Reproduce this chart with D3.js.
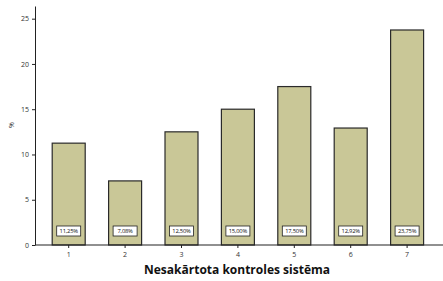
<!DOCTYPE html>
<html><head><meta charset="utf-8">
<script src="https://cdn.jsdelivr.net/npm/d3@7"></script>
<style>body{margin:0;background:#fff}svg{display:block}</style>
</head><body>
<script>
const categories = ["1","2","3","4","5","6","7"];
const values = [11.25, 7.08, 12.50, 15.00, 17.50, 12.92, 23.75];
const valueLabels = ["11,25%","7,08%","12,50%","15,00%","17,50%","12,92%","23,75%"];
const yTicks = [0,5,10,15,20,25];
const yTitle = "%";
const xTitle = "Nesakārtota kontroles sistēma";

const W=443,H=281;
const svg=d3.select("body").append("svg").attr("width",W).attr("height",H);
const font="'Open Sans', 'Noto Sans', sans-serif";
const y=d3.scaleLinear().domain([0,26.4]).range([245,6]);
const x=d3.scaleBand().domain(categories).range([40.5,435.3]).paddingInner(0.415).paddingOuter(0.2075);

// bars
svg.selectAll("rect.bar").data(values).join("rect").attr("class","bar")
  .attr("x",(d,i)=>x(categories[i])).attr("width",x.bandwidth())
  .attr("y",d=>y(d)).attr("height",d=>y(0)-y(d))
  .attr("fill","#c9c797").attr("stroke","#2a2a2a").attr("stroke-width",1.2);

// labels
const lg=svg.selectAll("g.lab").data(values).join("g").attr("class","lab")
  .attr("transform",(d,i)=>`translate(${x(categories[i])+x.bandwidth()/2},${231})`);
lg.append("rect").attr("x",-12).attr("y",-5).attr("width",24).attr("height",10)
  .attr("fill","#fff").attr("stroke","#222").attr("stroke-width",0.8);
lg.append("text").text((d,i)=>valueLabels[i]).attr("text-anchor","middle").attr("dy","0.35em")
  .attr("font-family",font).attr("font-size",5.8).attr("letter-spacing",-0.2).attr("fill","#111");

// y axis
const ya=svg.append("g").attr("transform","translate(35,0)")
  .call(d3.axisLeft(y).tickValues(yTicks).tickSize(3).tickSizeOuter(0));
ya.select(".domain").attr("stroke","#222");
ya.selectAll("text").attr("font-family",font).attr("font-size",7).attr("fill","#333");
ya.selectAll(".tick line").attr("stroke","#222");

// x axis
const xa=svg.append("g").attr("transform","translate(0,245)")
  .call(d3.axisBottom(x).tickSize(3).tickSizeOuter(0));
xa.select(".domain").remove();
xa.selectAll("text").attr("font-family",font).attr("font-size",7).attr("fill","#333").attr("dy","0.9em");
xa.selectAll(".tick line").attr("stroke","#222");
svg.append("line").attr("x1",35).attr("x2",443).attr("y1",245).attr("y2",245).attr("stroke","#222").attr("stroke-width",1.2);

svg.append("text").text(yTitle).attr("transform","translate(14,125) rotate(-90)")
  .attr("text-anchor","middle").attr("font-family",font).attr("font-size",7).attr("fill","#333");
svg.append("text").text(xTitle).attr("x",237).attr("y",274).attr("text-anchor","middle")
  .attr("font-family",font).attr("font-size",12).attr("font-weight","bold").attr("fill","#111");
</script>
</body></html>
